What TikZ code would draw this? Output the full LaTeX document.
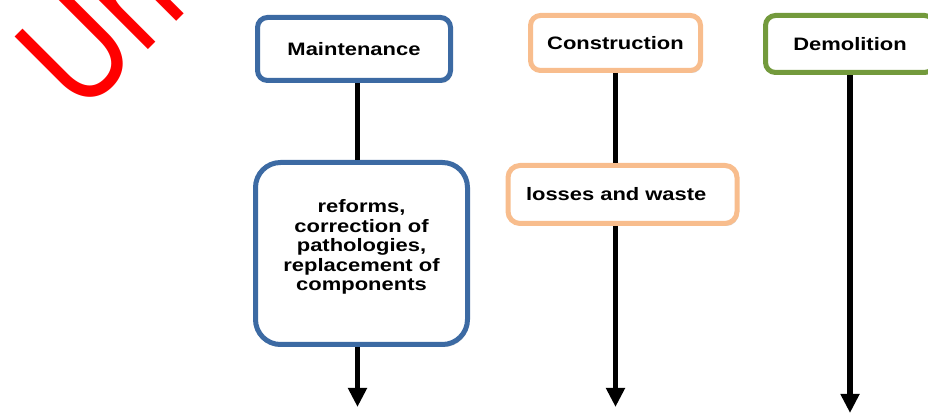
\documentclass[tikz,border=0pt]{standalone}
\usepackage{fontspec}
\usepackage{tikz}
\usetikzlibrary{positioning,arrows.meta,shadows}

\newfontfamily\boxfont{Liberation Sans}[FakeStretch=1.22]
\newfontfamily\markfont{Liberation Sans}

\definecolor{maintblue}{HTML}{3C6AA3}
\definecolor{constrorange}{HTML}{F8BD8D}
\definecolor{demolgreen}{HTML}{739A3C}

\tikzset{
  stagebox/.style={draw=#1, line width=5pt, rounded corners=10pt, fill=white, inner sep=0pt,
    font=\boxfont\bfseries\fontsize{18}{19.5}\selectfont,
    drop shadow={shadow xshift=1.5pt, shadow yshift=-2.5pt, opacity=0.3}},
  flow/.style={line width=5.5pt},
  flowarrow/.style={flow, -{Triangle[length=19pt,width=18pt]}}
}

\begin{document}
\begin{tikzpicture}[x=1pt, y=1pt]
    \useasboundingbox (0,0) rectangle (928,414);
    \clip (0,0) rectangle (928,414);

    % Watermark
    \node[font=\markfont\fontsize{150}{150}\selectfont, text=red, rotate=45,
      anchor=base west, inner sep=0pt] (mark) at (81,297) {\scalebox{0.8}[1]{Un}};

    % Stages
    \node[stagebox=maintblue, minimum width=193pt, minimum height=63pt] (maint) at (354,365) {Maintenance};
    \node[stagebox=constrorange, minimum width=170pt, minimum height=55pt] (constr) at (615.5,371) {Construction};
    \node[stagebox=demolgreen, minimum width=169pt, minimum height=57pt] (demol) at (850,370) {Demolition};

    % Effects
    \node[stagebox=maintblue, rounded corners=25pt, minimum width=212pt, minimum height=182pt,
      align=center] (reform) at (361.5,160.5) {reforms,\\correction of\\pathologies,\\replacement of\\components\\[-3pt]\mbox{}};
    \node[stagebox=constrorange, rounded corners=12pt, minimum height=58pt, text width=193pt,
      inner xsep=18pt, align=left] (losses) at (622.5,219.5) {losses and waste};

    % Arrow ends
    \coordinate (mEnd) at (357.5,7);
    \coordinate (cEnd) at (615.5,7);
    \coordinate (dEnd) at (850,1);

    % Draw flows
    \draw[flow] (maint.south -| mEnd) -- (reform.north -| mEnd);
    \draw[flowarrow] (reform.south -| mEnd) -- (mEnd);
    \draw[flow] (constr.south) -- (losses.north -| cEnd);
    \draw[flowarrow] (losses.south -| cEnd) -- (cEnd);
    \draw[flowarrow] (demol.south) -- (dEnd);
\end{tikzpicture}
\end{document}
